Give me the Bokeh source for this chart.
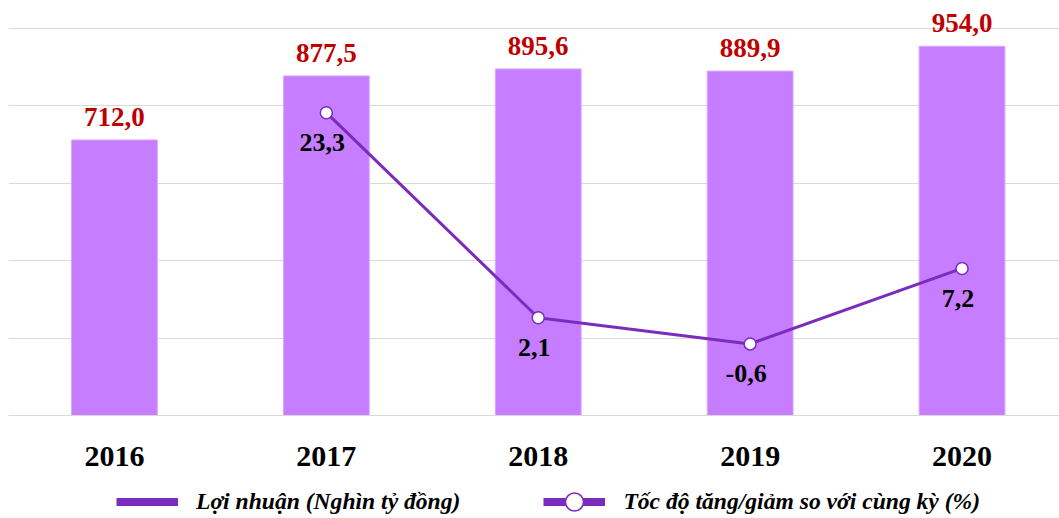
from bokeh.plotting import figure
from bokeh.models import (ColumnDataSource, Range1d, FixedTicker, Legend, LegendItem)
from bokeh.layouts import column
from bokeh.core.properties import value
from bokeh.embed import file_html
from bokeh.resources import INLINE

years = ["2016", "2017", "2018", "2019", "2020"]
profit = [712.0, 877.5, 895.6, 889.9, 954.0]
growth_years = ["2017", "2018", "2019", "2020"]
growth = [23.3, 2.1, -0.6, 7.2]
y_ticks = [0, 200, 400, 600, 800, 1000]
label_profit = "Lợi nhuận (Nghìn tỷ đồng)"
label_growth = "Tốc độ tăng/giảm so với cùng kỳ (%)"

def fmt(v):
    return f"{v:.1f}".replace(".", ",")

xs = list(range(len(years)))
gx = [years.index(y) for y in growth_years]

bar_src = ColumnDataSource(dict(x=xs, top=profit, lab=[fmt(v) for v in profit]))
line_src = ColumnDataSource(dict(x=gx, y=growth, lab=[fmt(v) for v in growth]))

FONT = "Liberation Serif"
BAR = "#C77DFF"
LINE = "#7B2CBF"

# frame: 1000 units over 387 px, plus 28 px headroom above the top gridline
p = figure(frame_width=1051, frame_height=415, output_backend="svg", toolbar_location=None,
           x_range=Range1d(-0.5, 4.46), y_range=Range1d(0, 1072.35),
           min_border_left=8, min_border_right=0, min_border_top=0,
           min_border_bottom=62)
p.extra_y_ranges = {"g": Range1d(-8, 34.894)}
p.outline_line_color = None
p.background_fill_color = "white"

p.vbar(x="x", top="top", width=0.405, source=bar_src, fill_color=BAR,
       line_color="#D8A8FF", line_width=1)
p.text(x="x", y="top", text="lab", source=bar_src, text_align="center",
       text_baseline="alphabetic", y_offset=-23, text_color="#C00000",
       text_font=value(FONT), text_font_style="bold", text_font_size="27px")

p.line(x="x", y="y", source=line_src, y_range_name="g", line_color=LINE, line_width=3)
p.scatter(x="x", y="y", source=line_src, y_range_name="g", size=12,
          fill_color="white", line_color=LINE, line_width=1.5)
p.text(x="x", y="y", text="lab", source=line_src, y_range_name="g",
       text_align="center", text_baseline="alphabetic", y_offset=30, x_offset=-4,
       text_color="black", text_font=value(FONT), text_font_style="bold",
       text_font_size="26px")

p.yaxis.visible = False
p.ygrid.ticker = FixedTicker(ticks=y_ticks)
p.ygrid.grid_line_color = "#D9D9D9"
p.ygrid.grid_line_width = 1
p.xgrid.visible = False

ax = p.xaxis[0]
ax.ticker = FixedTicker(ticks=xs)
ax.major_label_overrides = {i: y for i, y in enumerate(years)}
ax.major_tick_line_color = None
ax.minor_tick_line_color = None
ax.axis_line_color = "#D9D9D9"
ax.major_label_text_font = FONT
ax.major_label_text_font_style = "bold"
ax.major_label_text_font_size = "30px"
ax.major_label_text_color = "black"
ax.major_label_standoff = 25

# legend figure
lf = figure(width=1059, height=41, output_backend="svg", toolbar_location=None,
            x_range=Range1d(0, 1), y_range=Range1d(0, 1),
            min_border=0)
lf.axis.visible = False
lf.grid.visible = False
lf.outline_line_color = None
lg1 = lf.line(x=[5, 6], y=[5, 5], line_color=LINE, line_width=8)
lg2a = lf.line(x=[5, 6], y=[5, 5], line_color=LINE, line_width=8)
lg2b = lf.scatter(x=[5], y=[5], size=18, fill_color="white", line_color=LINE, line_width=1.5)

legend = Legend(items=[LegendItem(label=label_profit, renderers=[lg1]),
                       LegendItem(label=label_growth, renderers=[lg2a, lg2b])],
                orientation="horizontal", location=(108, -6),
                label_text_font=FONT, label_text_font_style="bold italic",
                label_text_font_size="23.6px", label_text_color="black",
                label_standoff=18, spacing=83,
                glyph_width=62, glyph_height=45, border_line_color=None,
                background_fill_alpha=0, padding=0, margin=0)
lf.add_layout(legend, "center")

layout = column(p, lf, spacing=0)
open("out.html", "w").write(file_html(layout, INLINE))
